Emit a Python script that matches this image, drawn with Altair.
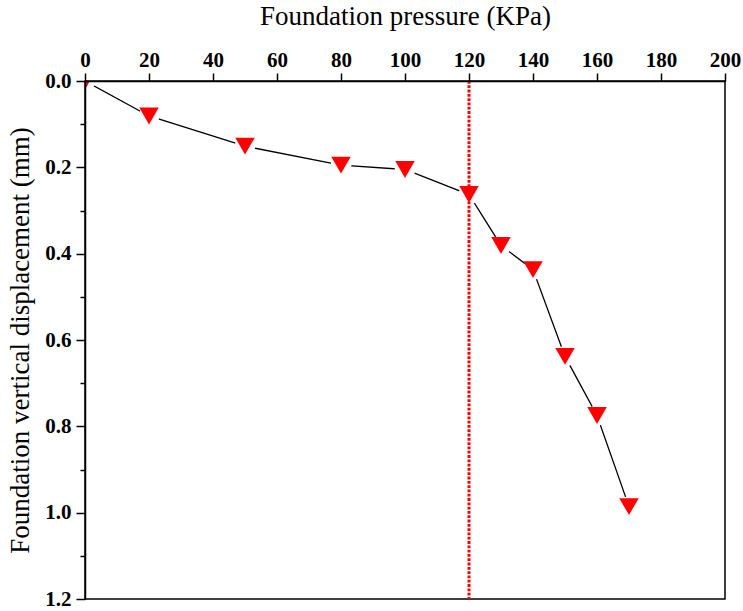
import altair as alt
import pandas as pd

# Load test: foundation pressure vs. vertical displacement
pressure = [0, 20, 50, 80, 100, 120, 130, 140, 150, 160, 170]
displacement = [0.0, 0.081, 0.151, 0.195, 0.205, 0.263, 0.381, 0.437, 0.638, 0.775, 0.986]

# Ultimate bearing pressure marked with a dotted line
ultimate_pressure = [120]

x_ticks = list(range(0, 201, 10))
y_ticks = [0.0, 0.1, 0.2, 0.3, 0.4, 0.5, 0.6, 0.7, 0.8, 0.9, 1.0, 1.1, 1.2]

df = pd.DataFrame({"pressure": pressure, "disp": displacement})
df_line = pd.DataFrame({"pressure": ultimate_pressure})

FONT = "Liberation Serif"

text_style = dict(
    labelFont=FONT,
    labelFontSize=21,
    labelFontWeight="bold",
    labelColor="black",
    labelFlush=False,
    titleFont=FONT,
    titleFontSize=27,
    titleFontWeight="normal",
    titleColor="black",
    grid=False,
    domainColor="black",
    domainWidth=1.5,
    tickColor="black",
    tickWidth=1.5,
    labelOverlap=False,
    titleBaseline="alphabetic",
    zindex=1,
)

x_axis = alt.Axis(
    orient="top",
    values=x_ticks,
    format="d",
    labelExpr="datum.value % 20 === 0 ? datum.label : ''",
    tickSize={"condition": {"test": "datum.value % 20 === 0", "value": 8}, "value": 4},
    labelPadding=3,
    title="Foundation pressure (KPa)",
    titleX=320,
    titleY=-57,
    **text_style,
)

y_axis = alt.Axis(
    values=y_ticks,
    format=".1f",
    labelExpr="round(datum.value * 10) % 2 === 0 ? datum.label : ''",
    tickSize={"condition": {"test": "round(datum.value * 10) % 2 === 0", "value": 9}, "value": 5},
    labelPadding=5,
    title="Foundation vertical displacement (mm)",
    titleX=-57,
    titleY=259,
    **text_style,
)

x_enc = alt.X("pressure:Q", scale=alt.Scale(domain=[0, 200], nice=False, zero=False), axis=x_axis)
y_enc = alt.Y("disp:Q", scale=alt.Scale(domain=[0, 1.2], nice=False, reverse=True), axis=y_axis)

base = alt.Chart(df)

line = base.mark_line(color="black", strokeWidth=1.3, clip=True).encode(x=x_enc, y=y_enc)

# white halos leave a small gap in the line around each marker
halo = base.mark_point(
    shape="circle", filled=True, color="white", opacity=1, size=430, strokeWidth=0, clip=True
).encode(x="pressure:Q", y="disp:Q")

ultimate = alt.Chart(df_line).mark_rule(
    color="#ff0000", strokeWidth=3, strokeDash=[2.8, 1.5]
).encode(x="pressure:Q")

markers = base.mark_point(
    shape="triangle-down", filled=True, color="#ff0000", opacity=1, size=380, strokeWidth=0, clip=True
).encode(x="pressure:Q", y="disp:Q")

chart = (
    alt.layer(line, halo, ultimate, markers)
    .properties(
        width=640,
        height=518,
        autosize=alt.AutoSizeParams(type="none"),
        padding={"left": 85, "top": 81, "right": 18, "bottom": 12},
        background="white",
    )
    .configure_view(stroke="black", strokeWidth=1.5)
)

chart.save("out.html", embed_options={"renderer": "svg", "actions": False})
